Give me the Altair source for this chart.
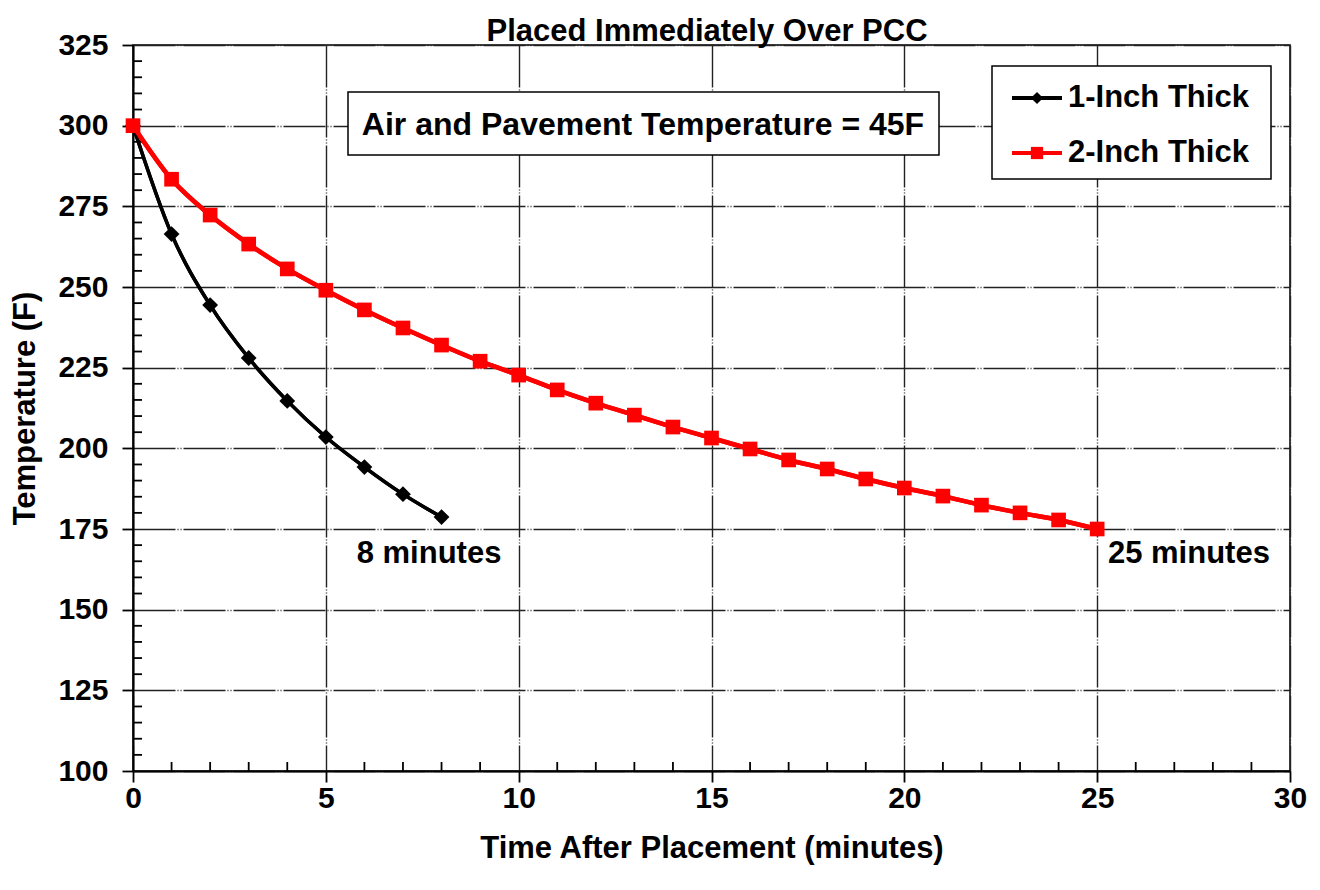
import altair as alt
import pandas as pd

# ---- data ----
t_one = [0, 1, 2, 3, 4, 5, 6, 7, 8]
temp_one = [300, 266.4, 244.4, 228.0, 214.7, 203.5, 194.2, 185.8, 178.7]

t_two = list(range(0, 26))
temp_two = [300, 283.4, 272.3, 263.3, 255.6, 249.0, 242.9, 237.3, 232.0, 227.0,
            222.7, 218.1, 214.0, 210.3, 206.6, 203.2, 199.8, 196.4, 193.6, 190.5,
            187.7, 185.2, 182.4, 180.0, 177.8, 175.0]

series_names = ["1-Inch Thick", "2-Inch Thick"]
series_colors = ["#000000", "#ff0000"]
series_shapes = ["diamond", "square"]
series_sizes = [250, 215]

x_ticks = [0, 5, 10, 15, 20, 25, 30]
y_ticks = [100, 125, 150, 175, 200, 225, 250, 275, 300, 325]
x_minor = [v for v in range(0, 31) if v % 5 != 0]
y_minor = [v for v in range(100, 326, 5) if v % 25 != 0]

chart_title = "Placed Immediately Over PCC"
box_text = "Air and Pavement Temperature = 45F"
note_text = ["8 minutes", "25 minutes"]
note_x = [5.8, 25.28]
note_y = [167.3, 167.3]

FONT = "Liberation Sans"
W, H = 1157, 726

df = pd.DataFrame({
    "t": t_one + t_two,
    "temp": temp_one + temp_two,
    "series": [series_names[0]] * len(t_one) + [series_names[1]] * len(t_two),
})

xs = alt.Scale(domain=[0, 30], nice=False, zero=False)
ys = alt.Scale(domain=[100, 325], nice=False, zero=False)
cs = alt.Scale(domain=series_names, range=series_colors)
ss = alt.Scale(domain=series_names, range=series_shapes)

grid_dash = [42, 2, 1, 2, 1, 2]

x_axis = alt.Axis(values=x_ticks, title="Time After Placement (minutes)", grid=True,
                  gridColor="#222", gridWidth=1.4, gridDash=grid_dash,
                  tickSize=11, tickColor="#000", tickWidth=1.8,
                  domainColor="#000", domainWidth=2,
                  labelFont=FONT, labelFontSize=30, labelFontWeight="bold", labelColor="#000",
                  labelPadding=1, titleFont=FONT, titleFontSize=31, titleFontWeight="bold",
                  titleColor="#000", titlePadding=20, labelFlush=False)
y_axis = alt.Axis(values=y_ticks, title="Temperature (F)", grid=True,
                  gridColor="#222", gridWidth=1.4, gridDash=grid_dash,
                  tickSize=11, tickColor="#000", tickWidth=1.8,
                  domainColor="#000", domainWidth=2,
                  labelFont=FONT, labelFontSize=30, labelFontWeight="bold", labelColor="#000",
                  labelPadding=14, titleFont=FONT, titleFontSize=31, titleFontWeight="bold",
                  titleColor="#000", titlePadding=16, labelFlush=False)

base = alt.Chart(df)

lines = base.mark_line(interpolate="monotone").encode(
    x=alt.X("t:Q", scale=xs, axis=x_axis),
    y=alt.Y("temp:Q", scale=ys, axis=y_axis),
    color=alt.Color("series:N", scale=cs, legend=None),
    strokeWidth=alt.StrokeWidth("series:N", scale=alt.Scale(domain=series_names, range=[3.5, 4.5]), legend=None),
)
points = base.mark_point(filled=True, opacity=1).encode(
    x=alt.X("t:Q", scale=xs),
    y=alt.Y("temp:Q", scale=ys),
    color=alt.Color("series:N", scale=cs, legend=None),
    shape=alt.Shape("series:N", scale=ss, legend=None),
    size=alt.Size("series:N", scale=alt.Scale(domain=series_names, range=series_sizes), legend=None),
)

ymin_df = pd.DataFrame({"v": y_minor})
xmin_df = pd.DataFrame({"v": x_minor})
y_minor_ticks = alt.Chart(ymin_df).mark_rule(color="#000", strokeWidth=1.8).encode(
    y=alt.Y("v:Q", scale=ys), x=alt.value(0), x2=alt.value(9))
x_minor_ticks = alt.Chart(xmin_df).mark_rule(color="#000", strokeWidth=1.8).encode(
    x=alt.X("v:Q", scale=xs), y=alt.value(H), y2=alt.value(H - 9))

# Text box
one = pd.DataFrame({"k": [0]})
box_rect = alt.Chart(one).mark_rect(fill="white", stroke="#000", strokeWidth=1.5).encode(
    x=alt.value(215), x2=alt.value(806), y=alt.value(47), y2=alt.value(110))
box_label = alt.Chart(one).mark_text(font=FONT, fontSize=32, fontWeight="bold", color="#000",
                                      align="center", baseline="middle").encode(
    x=alt.value(510), y=alt.value(80), text=alt.value(box_text))

# Title
title_mark = alt.Chart(one).mark_text(font=FONT, fontSize=31, fontWeight="bold", color="#000",
                                       align="center", baseline="alphabetic").encode(
    x=alt.value(574), y=alt.value(-4), text=alt.value(chart_title))

# Legend
leg_rect = alt.Chart(one).mark_rect(fill="white", stroke="#000", strokeWidth=1.5).encode(
    x=alt.value(859), x2=alt.value(1138), y=alt.value(21), y2=alt.value(134))
leg_df = pd.DataFrame({"series": series_names, "row": [53, 108]})
leg_lines = alt.Chart(leg_df).mark_rule(strokeWidth=4).encode(
    x=alt.value(879), x2=alt.value(929), y=alt.Y("row:Q", scale=None),
    color=alt.Color("series:N", scale=cs, legend=None))
leg_pts = alt.Chart(leg_df).mark_point(filled=True, opacity=1, size=150).encode(
    x=alt.value(904), y=alt.Y("row:Q", scale=None),
    color=alt.Color("series:N", scale=cs, legend=None),
    shape=alt.Shape("series:N", scale=ss, legend=None))
leg_text = alt.Chart(leg_df).mark_text(font=FONT, fontSize=31, fontWeight="bold", color="#000",
                                        align="left", baseline="middle").encode(
    x=alt.value(935), y=alt.Y("row:Q", scale=None), text="series:N")

# Annotations
note_df = pd.DataFrame({"x": note_x, "y": note_y, "txt": note_text})
notes = alt.Chart(note_df).mark_text(font=FONT, fontSize=31, fontWeight="bold", color="#000",
                                      align="left", baseline="middle").encode(
    x=alt.X("x:Q", scale=xs), y=alt.Y("y:Q", scale=ys), text="txt:N")

chart = alt.layer(
    lines, y_minor_ticks, x_minor_ticks, box_rect, box_label, leg_rect,
    lines, points, leg_lines, leg_pts, leg_text, notes, title_mark
).properties(
    width=W, height=H,
    autosize=alt.AutoSizeParams(type="none"),
    padding={"left": 125, "top": 37, "right": 22, "bottom": 111},
    background="white",
).configure_view(stroke="#000", strokeWidth=1.5)

chart.save("out.html", embed_options={"renderer": "svg", "actions": False})
